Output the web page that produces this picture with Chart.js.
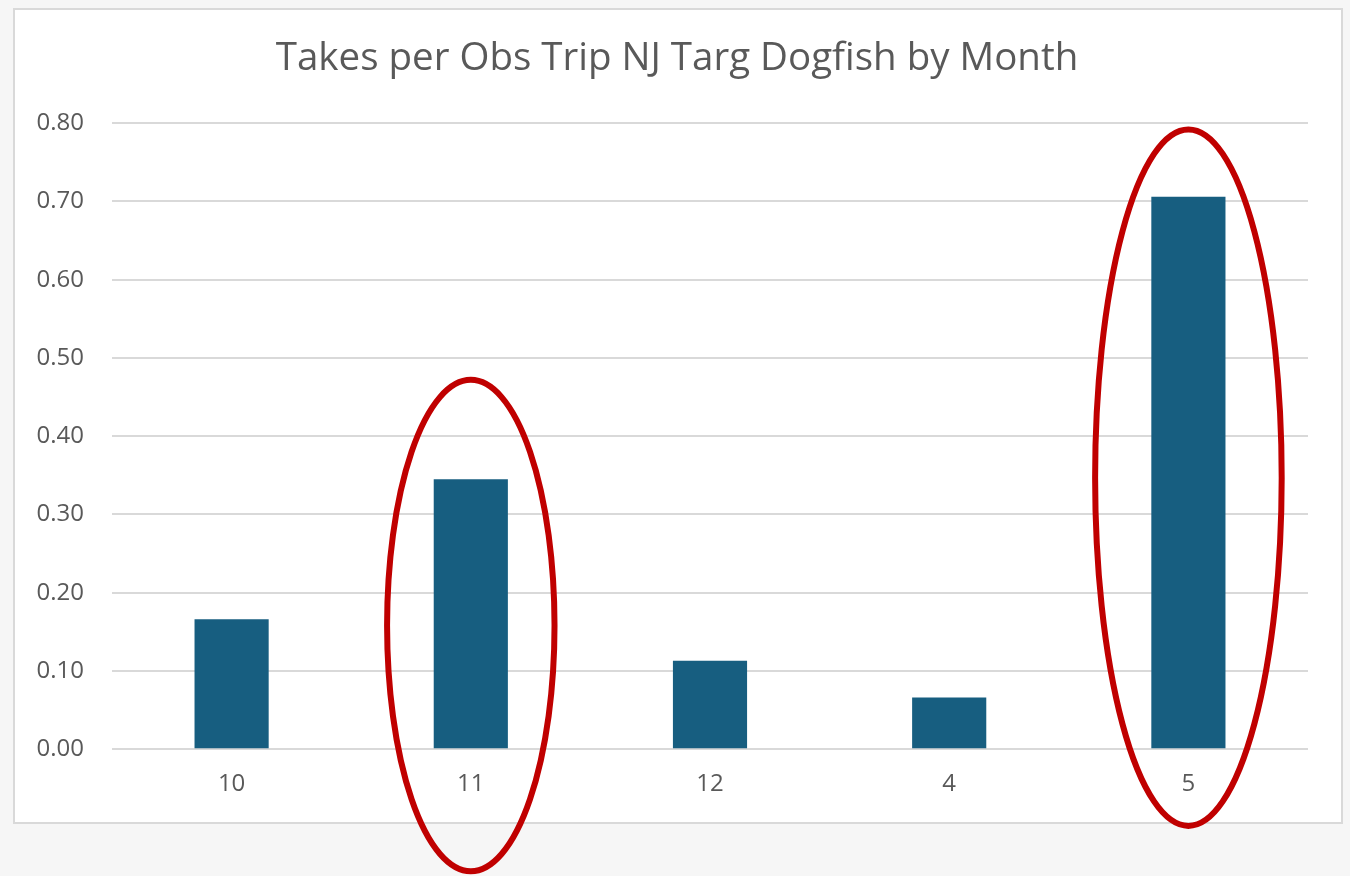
<!DOCTYPE html>
<html>
<head>
<meta charset="utf-8">
<script src="https://cdn.jsdelivr.net/npm/chart.js@4"></script>
<style>
  html, body { margin: 0; padding: 0; background: #f6f6f6; }
  #wrap { width: 1350px; height: 876px; position: relative; }
</style>
</head>
<body>
<div id="wrap"><canvas id="myChart" width="1350" height="876"></canvas></div>
<script>
const months = ["10", "11", "12", "4", "5"];
const takes = [0.166, 0.345, 0.113, 0.066, 0.706];
const yTicks = [0, 0.1, 0.2, 0.3, 0.4, 0.5, 0.6, 0.7, 0.8];
const circled = ["11", "5"];

// red rings drawn round the circled months, sized in axis units
const ringSpec = {
  "11": { yMid: 0.158, yHalf: 0.314, xHalf: 0.35 },
  "5": { yMid: 0.347, yHalf: 0.445, xHalf: 0.39 },
};

const frame = {
  id: "frame",
  afterLayout(chart) {
    // title sits centred on the whole frame, not on the plot
    const t = chart.titleBlock;
    if (t) { t.left += 23; t.right += 23; }
  },
  beforeDraw(chart) {
    const c = chart.ctx;
    c.save();
    c.fillStyle = "#f6f6f6";
    c.fillRect(0, 0, chart.width, chart.height);
    c.fillStyle = "#ffffff";
    c.fillRect(14, 9, 1328, 814);
    c.strokeStyle = "#d9d9d9";
    c.lineWidth = 2;
    c.strokeRect(14, 9, 1328, 814);
    c.restore();
  },
};

const rings = {
  id: "rings",
  afterDraw(chart) {
    const c = chart.ctx;
    const xs = chart.scales.x, ys = chart.scales.y;
    const step = xs.getPixelForValue(1) - xs.getPixelForValue(0);
    c.save();
    c.strokeStyle = "#c00000";
    c.lineWidth = 6;
    circled.forEach((m) => {
      const s = ringSpec[m];
      const cx = xs.getPixelForValue(months.indexOf(m));
      const cy = ys.getPixelForValue(s.yMid);
      const ry = ys.getPixelForValue(0) - ys.getPixelForValue(s.yHalf);
      c.beginPath();
      c.ellipse(cx, cy, s.xHalf * step, ry, 0, 0, Math.PI * 2);
      c.stroke();
    });
    c.restore();
  },
};

window.onload = function () {
  const ctx = document.getElementById("myChart").getContext("2d");
  new Chart(ctx, {
    type: "bar",
    data: {
      labels: months,
      datasets: [
        {
          label: "Takes per Obs Trip",
          data: takes,
          backgroundColor: "#175e80",
          barPercentage: 0.31,
          categoryPercentage: 1,
        },
      ],
    },
    options: {
      responsive: false,
      animation: false,
      layout: { padding: { left: 0, right: 42, top: 0, bottom: 56 } },
      plugins: {
        legend: { display: false },
        tooltip: { enabled: false },
        title: {
          display: true,
          text: "Takes per Obs Trip NJ Targ Dogfish by Month",
          color: "#595959",
          font: { family: "Open Sans", size: 38.5, weight: "normal" },
          padding: { top: 36, bottom: 41 },
        },
      },
      scales: {
        x: {
          grid: { display: false, drawTicks: false },
          border: { display: false },
          ticks: {
            color: "#595959",
            font: { family: "Open Sans", size: 24 },
            padding: 21,
          },
        },
        y: {
          min: 0,
          max: 0.8,
          afterFit(axis) { axis.width = 112; },
          afterBuildTicks(axis) { axis.ticks = yTicks.map((v) => ({ value: v })); },
          grid: { color: "#d9d9d9", lineWidth: 2, drawTicks: false },
          border: { display: false },
          ticks: {
            color: "#595959",
            font: { family: "Open Sans", size: 24 },
            padding: 28,
            callback: (v) => Number(v).toFixed(2),
          },
        },
      },
    },
    plugins: [frame, rings],
  });
};
</script>
</body>
</html>
